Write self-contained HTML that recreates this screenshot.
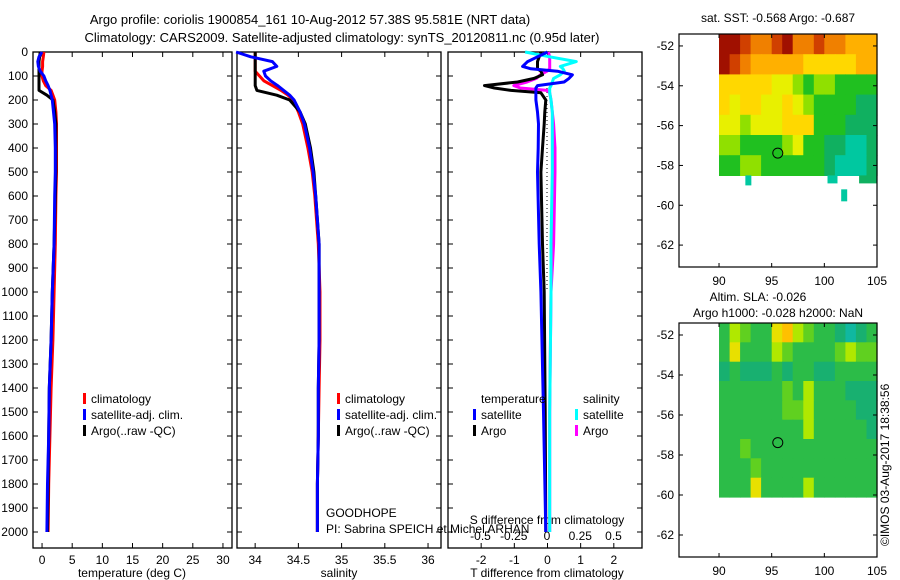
<!DOCTYPE html>
<html><head><meta charset="utf-8"><style>
body{margin:0;background:#fff}
svg{display:block;font-family:"Liberation Sans",sans-serif;font-size:12px}
</style></head><body>
<svg id="c" width="900" height="580" viewBox="0 0 900 580" xmlns="http://www.w3.org/2000/svg">
<text x="310" y="24" text-anchor="middle" font-size="13">Argo profile: coriolis 1900854_161 10-Aug-2012 57.38S 95.581E (NRT data)</text>
<text x="342" y="42" text-anchor="middle" font-size="13">Climatology: CARS2009. Satellite-adjusted climatology: synTS_20120811.nc (0.95d later)</text>
<text x="778" y="22" text-anchor="middle">sat. SST: -0.568 Argo: -0.687</text>
<text x="758" y="301" text-anchor="middle">Altim. SLA: -0.026</text>
<text x="778" y="317" text-anchor="middle">Argo h1000: -0.028 h2000: NaN</text>
<text transform="translate(889,546) rotate(-90)">©IMOS 03-Aug-2017 18:38:56</text>
<text x="326" y="517">GOODHOPE</text>
<text x="326" y="533">PI: Sabrina SPEICH et Michel ARHAN</text>
<g id="g"></g>
</svg>
<script>
const depths=[0,20,40,60,80,100,120,140,160,180,200,250,300,400,500,600,800,1000,1200,1400,1600,1800,2000];
const tempClim=[0.3,0.2,0.1,0.1,0.0,0.0,0.2,0.6,1.5,1.8,2.1,2.3,2.4,2.4,2.4,2.3,2.2,2.0,1.8,1.5,1.3,1.1,1.0];
const tempSat=[0.0,-0.5,-0.7,-0.6,-0.3,0.3,0.6,1.0,1.3,1.5,1.7,1.9,2.1,2.2,2.2,2.1,2.0,1.7,1.5,1.2,1.1,0.9,0.8];
const tempArgo=[-0.3,-0.4,-0.5,-0.5,-0.5,-0.5,-0.5,-0.5,-0.5,0.8,1.8,2.1,2.3,2.3,2.3,2.2,2.0,1.7,1.5,1.2,1.1,1.0,0.9];
const salClim=[34.0,34.0,34.0,34.0,34.0,34.05,34.1,34.2,34.3,34.38,34.44,34.5,34.55,34.61,34.66,34.69,34.73,34.75,34.75,34.74,34.73,34.72,34.72];
const salSat=[33.78,33.95,34.2,34.25,34.1,34.12,34.18,34.26,34.33,34.4,34.45,34.52,34.57,34.63,34.67,34.7,34.74,34.74,34.74,34.73,34.73,34.72,34.72];
const salArgo=[34.0,34.0,34.0,34.0,34.0,34.0,34.0,34.0,34.02,34.25,34.4,34.52,34.58,34.64,34.68,34.7,34.74,34.74,34.74,34.73,34.73,34.72,34.72];
const diffDepths=[0,20,40,60,70,80,95,110,125,140,150,160,170,200,250,300,400,500,800,1000,1500,2000];
const tDiffSat=[0,-0.3,-0.6,-0.75,-0.5,0.3,0.75,0.65,0.5,-0.3,-0.35,-0.35,-0.35,-0.35,-0.3,-0.27,-0.28,-0.3,-0.25,-0.2,-0.12,-0.05];
const tDiffArgo=[-0.2,-0.25,-0.3,-0.3,-0.3,-0.2,-0.15,-0.4,-0.9,-1.9,-1.6,-1.1,-0.2,-0.05,-0.08,-0.1,-0.15,-0.2,-0.15,-0.1,-0.07,-0.05];
const sDiffSat=[-0.165,0.02,0.22,0.1,0.12,0.13,0.1,0.05,0.04,0.03,0.02,0.02,0.02,0.03,0.04,0.04,0.04,0.04,0.03,0.03,0.02,0.02];
const sDiffArgo=[0.01,0.02,0.02,0.02,0.02,0.0,-0.05,-0.08,-0.15,-0.25,-0.2,0.0,0.02,0.03,0.04,0.05,0.06,0.06,0.05,0.03,0.02,0.02];
const depthTicks=[0,100,200,300,400,500,600,700,800,900,1000,1100,1200,1300,1400,1500,1600,1700,1800,1900,2000];
const tempTicks=[0,5,10,15,20,25,30];
const salTicks=[34,34.5,35,35.5,36];
const tDiffTicks=[-2,-1,0,1,2];
const sDiffTicks=[-0.5,-0.25,0,0.25,0.5];
const lonTicks=[90,95,100,105];
const latTicks=[-52,-54,-56,-58,-60,-62];
const sstGrid=[
[10,10,9,8,8,9,10,8,8,9,8,8,7,7,7],
[10,9,8,7,7,7,7,7,6,6,6,6,6,7,7],
[6,6,6,6,6,5,5,4,3,4,4,3,3,3,3],
[6,5,6,6,5,5,6,5,4,3,3,3,3,2,2],
[5,5,4,5,5,5,6,6,6,3,3,3,2,2,2],
[4,4,3,3,3,3,4,5,3,3,2,2,1,1,2],
[3,3,4,4,3,3,3,3,3,3,2,1,1,1,2]];
const slaGrid=[
[3,5,4,3,3,6,7,5,4,3,3,2,1,2,3],
[3,6,3,3,3,5,4,3,3,3,3,4,5,4,4],
[2,3,2,2,2,3,2,3,3,2,2,3,3,3,3],
[3,3,3,3,3,3,4,3,5,3,3,3,2,2,2],
[3,3,3,3,3,3,4,4,5,3,3,3,3,2,2],
[3,3,3,3,3,3,3,3,5,3,3,3,3,3,2],
[3,3,4,3,3,3,3,3,3,3,3,3,3,3,3],
[3,3,3,4,3,3,3,3,3,3,3,3,3,3,3],
[3,3,3,6,3,3,3,3,5,3,3,3,3,3,3]];
const argoLon=95.58, argoLat=-57.38;

const NS='http://www.w3.org/2000/svg', G=document.getElementById('g');
function mk(t,a,p){const e=document.createElementNS(NS,t);for(const k in a)e.setAttribute(k,a[k]);(p||G).appendChild(e);return e;}
const Y0=52,Y1=548;
const yD=d=>52+d*0.24;
const P1={x0:33,x1:232,v0:-1.5,v1:31.5}, P2={x0:237,x1:441,v0:33.79,v1:36.15}, P3={x0:448,x1:642,v0:-3,v1:2.85};
const sx=(P,v)=>P.x0+(v-P.v0)/(P.v1-P.v0)*(P.x1-P.x0);
const sxS=v=>547+v*133;
function frame(P,name){
  const r=mk('rect',{x:P.x0,y:Y0,width:P.x1-P.x0,height:Y1-Y0,fill:'none',stroke:'#000','stroke-width':1.3});
  
  depthTicks.forEach(d=>{mk('line',{x1:P.x0,x2:P.x0+5,y1:yD(d),y2:yD(d),stroke:'#000'});mk('line',{x1:P.x1,x2:P.x1-5,y1:yD(d),y2:yD(d),stroke:'#000'});});
}
function xticks(P,ticks){ticks.forEach(v=>{const x=sx(P,v);
  mk('line',{x1:x,x2:x,y1:Y0,y2:Y0+5,stroke:'#000'});mk('line',{x1:x,x2:x,y1:Y1,y2:Y1-5,stroke:'#000'});
  const t=mk('text',{x:x,y:564,'text-anchor':'middle'});t.textContent=v;
  });}
function line(xs,ys,fx,col,w,name){
  const pts=xs.map((v,i)=>fx(v).toFixed(1)+','+yD(ys[i]).toFixed(1)).join(' ');
  const p=mk('polyline',{points:pts,fill:'none',stroke:col,'stroke-width':w,'stroke-linejoin':'round'});
  }
function txt(x,y,s,name,anchor){const t=mk('text',{x:x,y:y});if(anchor)t.setAttribute('text-anchor',anchor);t.textContent=s;
  return t;}
function leg(x,y,col,s,name){const r=mk('rect',{x:x,y:y-10,width:3,height:11,fill:col});
  txt(x+8,y,s,name);}

frame(P1,'temperature-panel');frame(P2,'salinity-panel');frame(P3,'difference-panel');
depthTicks.forEach(d=>{txt(28,yD(d)+4,d,'depth-tick-label','end');});
xticks(P1,tempTicks);xticks(P2,salTicks);xticks(P3,tDiffTicks);
txt(132,577,'temperature (deg C)','temperature-axis-title','middle');
txt(339,577,'salinity','salinity-axis-title','middle');
txt(547,577,'T difference from climatology','t-diff-axis-title','middle');
txt(547,524,'S difference from climatology','s-diff-axis-title','middle');
sDiffTicks.forEach(v=>txt(sxS(v),540,v,'s-diff-tick-label','middle'));

line(tempClim,depths,v=>sx(P1,v),'#f00',3,'temperature-climatology-line');
line(tempArgo,depths,v=>sx(P1,v),'#000',3,'temperature-argo-line');
line(tempSat,depths,v=>sx(P1,v),'#00f',3,'temperature-satellite-line');
line(salClim,depths,v=>sx(P2,v),'#f00',3,'salinity-climatology-line');
line(salArgo,depths,v=>sx(P2,v),'#000',3,'salinity-argo-line');
line(salSat,depths,v=>sx(P2,v),'#00f',3,'salinity-satellite-line');
mk('line',{x1:547,x2:547,y1:yD(150),y2:yD(1000),stroke:'#000','stroke-dasharray':'1,3'});
line(sDiffArgo,diffDepths,sxS,'#f0f',3,'s-diff-argo-line');
line(tDiffArgo,diffDepths,v=>sx(P3,v),'#000',3,'t-diff-argo-line');
line(sDiffSat,diffDepths,sxS,'#0ff',3,'s-diff-satellite-line');
line(tDiffSat,diffDepths,v=>sx(P3,v),'#00f',3,'t-diff-satellite-line');

leg(83,403,'#f00','climatology','temp-legend-climatology');
leg(83,419,'#00f','satellite-adj. clim.','temp-legend-satellite');
leg(83,435,'#000','Argo(..raw -QC)','temp-legend-argo');
leg(337,403,'#f00','climatology','sal-legend-climatology');
leg(337,419,'#00f','satellite-adj. clim.','sal-legend-satellite');
leg(337,435,'#000','Argo(..raw -QC)','sal-legend-argo');
txt(481,403,'temperature','diff-legend-temperature-header');
txt(583,403,'salinity','diff-legend-salinity-header');
leg(473,419,'#00f','satellite','diff-legend-t-satellite');
leg(473,435,'#000','Argo','diff-legend-t-argo');
leg(575,419,'#0ff','satellite','diff-legend-s-satellite');
leg(575,435,'#f0f','Argo','diff-legend-s-argo');

const cmap=['#fff','#00c8a0','#10b060','#20c020','#90e000','#e8f000','#ffd800','#ffb000','#f08000','#d04000','#a01000'];
const slaCmap=['#fff','#10b8a0','#18b070','#2cbc48','#60d020','#b0e800','#e8e000','#ffc000'];
function map(top,bot,grid,cm,name,botLat,extra){
  const M={x0:679,x1:877,y0:top,y1:bot,lon0:86.2,lon1:105,lat0:-51.4,lat1:-63.1};
  const mx=l=>M.x0+(l-M.lon0)/(M.lon1-M.lon0)*(M.x1-M.x0);
  const my=l=>M.y0+(l-M.lat0)/(M.lat1-M.lat0)*(M.y1-M.y0);
  const h=(M.lat0-botLat)/grid.length;
  const g=mk('g',{});
  grid.forEach((row,r)=>row.forEach((v,c)=>{
    const ya=my(M.lat0-r*h), yb=my(M.lat0-(r+1)*h);
    mk('rect',{x:mx(90+c).toFixed(1),y:ya.toFixed(1),width:(mx(91)-mx(90)+0.6).toFixed(1),height:(yb-ya+0.6).toFixed(1),fill:cm[v]},g);}));
  if(extra)extra(mx,my,g);
  const f=mk('rect',{x:M.x0,y:M.y0,width:M.x1-M.x0,height:M.y1-M.y0,fill:'none',stroke:'#000','stroke-width':1.2});
  
  lonTicks.forEach(l=>{mk('line',{x1:mx(l),x2:mx(l),y1:M.y1,y2:M.y1-4,stroke:'#000'});mk('line',{x1:mx(l),x2:mx(l),y1:M.y0,y2:M.y0+4,stroke:'#000'});
    txt(mx(l),M.y1+18,l,name+'-lon-label','middle');});
  latTicks.forEach(l=>{mk('line',{x1:M.x0,x2:M.x0+4,y1:my(l),y2:my(l),stroke:'#000'});mk('line',{x1:M.x1,x2:M.x1-4,y1:my(l),y2:my(l),stroke:'#000'});
    txt(M.x0-5,my(l)+4,l,name+'-lat-label','end');});
  const c=mk('circle',{cx:mx(argoLon),cy:my(argoLat),r:5,fill:'none',stroke:'#000'});
  
}
map(34,267,sstGrid,cmap,'sst-map',-58.5,(mx,my,g)=>{
  mk('rect',{x:mx(92.5),y:my(-58.5),width:6,height:10,fill:cmap[1]},g);
  mk('rect',{x:mx(100.3),y:my(-58.5),width:10,height:8,fill:cmap[1]},g);
  mk('rect',{x:mx(101.6),y:my(-59.2),width:6,height:12,fill:cmap[1]},g);
  mk('rect',{x:mx(103.3),y:my(-58.5),width:mx(105)-mx(103.3),height:8,fill:cmap[2]},g);});
map(323,557,slaGrid,slaCmap,'sla-map',-60.1);
</script>
</body></html>
